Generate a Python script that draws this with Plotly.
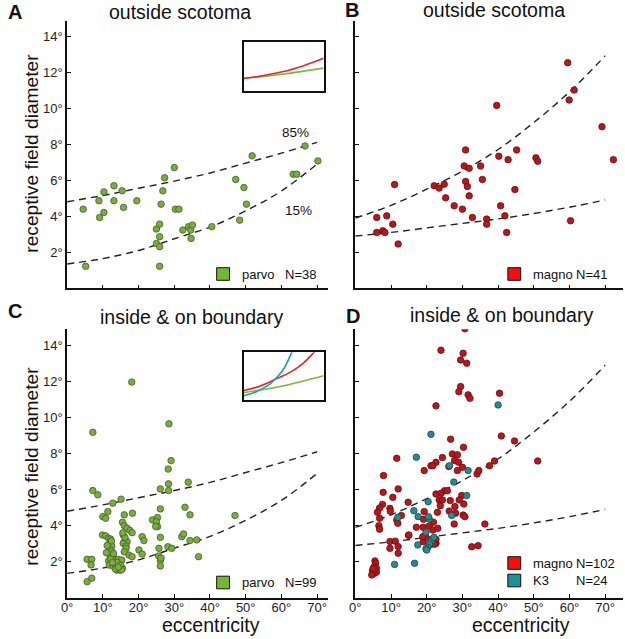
import plotly.graph_objects as go

W, H = 625, 639

# ---------------- data ----------------
# Panel A: parvo, outside scotoma
A_x = [4.5, 5.2, 8.9, 9.1, 10.3, 10.3, 13.1, 13.1, 15.4, 15.8, 19.5, 25.0, 25.0, 25.9, 25.9, 25.9, 25.9,
       26.3, 26.8, 27.3, 30.0, 30.3, 31.3, 32.4, 34.0, 34.6, 34.7, 35.1, 40.5, 47.2, 48.3, 49.5, 50.2,
       51.8, 63.3, 64.3, 66.6, 70.2]
A_y = [4.39, 1.22, 4.86, 3.93, 5.35, 4.21, 5.69, 4.86, 5.41, 4.49, 4.86, 3.29, 2.49, 3.56, 2.86, 2.31, 1.22,
       4.67, 5.41, 6.13, 6.70, 4.39, 4.39, 3.23, 3.42, 3.23, 2.77, 3.51, 3.42, 6.04, 3.78, 5.59, 4.67,
       7.35, 6.33, 6.33, 7.90, 7.07]

# Panel B: magno, outside scotoma
B_x = [6.0, 6.0, 7.7, 8.3, 8.8, 10.5, 11.0, 12.0, 22.1, 23.5, 24.9, 25.3, 27.7, 30.0, 30.5, 30.9, 30.9,
       31.4, 31.9, 31.9, 32.8, 35.1, 35.6, 36.8, 36.8, 39.6, 40.2, 40.7, 41.9, 42.4, 42.8, 44.7, 45.2,
       50.6, 51.1, 59.5, 59.9, 60.3, 61.3, 69.1, 72.3]
B_y = [3.93, 3.10, 3.19, 3.10, 4.02, 3.56, 5.76, 2.46, 5.69, 5.56, 5.78, 5.02, 4.58, 4.39, 6.79, 7.68, 5.93,
       5.65, 6.66, 5.13, 3.93, 6.79, 6.04, 3.84, 3.56, 10.15, 7.33, 4.58, 4.02, 3.10, 7.14, 5.48, 7.68,
       7.24, 7.05, 12.52, 10.45, 3.75, 11.0, 8.97, 7.14]

# Panel C: parvo, inside & on boundary
C_x = [7.2, 18.1, 28.5, 29.1, 28.3, 47.0, 36.3, 36.8,
       28.4, 28.4, 26.1, 33.9, 7.2, 8.6, 12.8, 15.1, 11.4, 10.0, 10.8, 16.0, 18.3, 26.1, 33.0, 34.4,
       15.5, 16.0, 16.8, 17.6, 23.9, 25.3, 25.0, 25.3, 24.8, 18.2,
       15.7, 16.2, 16.8, 15.7, 16.5, 21.0, 21.5, 26.1, 32.1, 32.6, 34.4,
       20.1, 21.0, 25.7, 28.2, 29.3, 17.3, 18.2, 25.6, 26.1, 26.1, 16.5,
       5.6, 6.9, 6.7, 5.6, 6.9,
       9.9, 10.8, 11.6, 12.2, 12.0, 12.5, 11.9, 12.5, 12.0, 12.9, 11.6, 12.5, 13.4, 14.3, 15.3, 11.8,
       12.9, 13.9, 14.8, 15.5, 13.9, 14.8, 13.4,
       12.4, 11.2, 13.0, 12.2, 14.0, 15.0, 13.5, 16.2, 15.6, 26.3, 16.0, 11.0, 12.7, 15.2, 14.3]
C_y = [9.18, 11.97, 9.65, 7.61, 7.14, 4.56, 3.21, 2.28,
       6.32, 5.95, 6.04, 6.41, 5.95, 5.71, 5.25, 5.47, 4.78, 4.50, 4.41, 4.60, 4.69, 4.93, 5.02, 4.60,
       4.19, 4.00, 3.86, 3.73, 4.32, 4.45, 4.22, 3.95, 3.95, 3.61,
       3.48, 3.21, 3.11, 3.02, 2.87, 3.39, 3.17, 3.35, 3.39, 3.54, 3.17,
       2.65, 2.42, 2.74, 2.83, 2.74, 2.37, 2.28, 2.32, 2.05, 1.76, 2.74,
       2.13, 2.13, 1.82, 0.89, 1.08,
       3.48, 3.43, 3.30, 3.25, 3.02, 2.87, 2.69, 2.56, 2.37, 2.28, 2.05, 2.00, 2.09, 2.12, 2.09, 1.81,
       1.76, 1.68, 1.63, 1.63, 1.53, 1.53, 1.86,
       3.15, 2.90, 2.45, 2.15, 1.95, 1.80, 1.60, 3.35, 3.60, 2.20, 2.55, 2.50, 1.95, 1.55, 1.70]

# Panel D: magno, inside & on boundary
D_mx = [30.7, 24.0, 30.2, 29.5, 31.2, 29.5, 29.0, 31.6, 32.1, 40.4, 22.6, 40.9, 44.6, 51.1, 26.7, 30.3,
        27.2, 28.6, 27.8, 28.9, 24.4, 22.6, 21.2, 21.7, 19.3, 26.2, 28.6, 30.0, 34.1, 34.6, 37.6, 39.0,
        11.6, 7.9, 7.8, 12.0, 10.5, 7.6, 6.8, 6.2, 9.7, 9.8, 6.8, 6.6, 6.8, 11.6, 12.9, 11.9, 14.8, 14.9,
        9.7, 11.2, 9.7, 12.0, 12.0,
        5.5, 5.7, 5.3, 5.9, 4.8, 5.3, 5.9, 4.6, 5.5, 5.0,
        25.0, 25.8, 22.6, 23.5, 24.4, 24.0, 23.8, 26.6, 27.9, 26.3, 23.0, 28.1, 30.2, 30.7, 27.7, 30.4,
        29.8, 17.1, 19.0, 21.9, 19.1, 20.7, 21.7, 19.0, 19.8, 21.2, 22.6, 22.6, 36.3, 32.6, 34.4, 19.3,
        23.1, 15.0, 22.2, 18.9, 29.1]
D_my = [14.93, 13.74, 13.57, 13.20, 13.02, 11.72, 11.44, 11.26, 11.07, 11.35, 10.65, 8.98, 8.70, 7.59, 8.80, 8.35,
        7.98, 7.93, 7.61, 7.52, 7.78, 7.52, 7.33, 7.33, 7.06, 7.28, 7.06, 7.24, 6.87, 7.06, 7.33, 7.59,
        7.74, 6.78, 5.85, 6.04, 5.57, 5.18, 4.98, 4.74, 4.96, 4.80, 4.41, 4.00, 3.80, 4.31, 4.56, 4.13, 5.30, 3.46,
        3.12, 3.14, 2.74, 2.84, 2.47,
        2.04, 1.91, 1.72, 1.63, 1.48, 1.35, 1.41, 1.26, 1.54, 1.63,
        5.94, 5.94, 5.76, 5.43, 5.43, 5.80, 5.11, 5.39, 5.06, 4.81, 4.74, 4.69, 4.59, 4.50, 4.09, 5.20,
        5.67, 3.91, 3.91, 4.19, 4.35, 3.98, 3.76, 3.11, 3.35, 2.96, 3.02, 3.24, 4.09, 2.83, 2.89, 4.78,
        3.85, 3.48, 2.97, 3.39, 5.43]
D_kx = [40.0, 21.2, 17.1, 26.4, 31.6, 27.6, 31.2, 20.4, 16.4, 17.6, 20.7, 27.0, 11.9, 19.8, 17.5, 21.2,
        20.8, 20.3, 19.8, 11.0, 16.6, 20.5, 22.0, 20.0]
D_ky = [10.70, 9.07, 7.80, 7.33, 7.06, 6.42, 5.67, 5.33, 4.83, 4.50, 4.37, 4.57, 4.46, 3.63, 2.93, 3.12,
        2.97, 2.80, 2.72, 1.85, 1.91, 4.50, 3.35, 2.65]

# percentile curves (85% upper, 15% lower), sampled at eccentricities
curve_ecc = [0, 10, 20, 30, 40, 50, 60, 70]
parvo_85 = [4.8, 5.15, 5.55, 5.95, 6.4, 6.95, 7.5, 8.1]
parvo_15 = [1.35, 1.65, 2.1, 2.75, 3.4, 4.3, 5.4, 6.9]
magno_85 = [3.9, 4.6, 5.5, 6.5, 7.7, 9.2, 10.9, 12.9]
magno_15 = [2.9, 3.1, 3.35, 3.6, 3.85, 4.15, 4.5, 4.9]

# inset curves (normalised)
insA_x = [0, 0.25, 0.5, 0.75, 1.0]
insA_green = [0.25, 0.29, 0.34, 0.40, 0.46]
insA_red = [0.25, 0.31, 0.39, 0.51, 0.66]
insC_red_x = [0, 0.2, 0.39, 0.6, 0.75, 0.88, 0.95]
insC_red_y = [0.20, 0.29, 0.43, 0.60, 0.78, 1.0, 1.12]
insC_cyan_x = [0, 0.15, 0.3, 0.39, 0.5, 0.6, 0.65]
insC_cyan_y = [0.09, 0.17, 0.30, 0.43, 0.65, 1.0, 1.2]
insC_green_x = [0, 0.25, 0.5, 0.75, 1.0]
insC_green_y = [0.155, 0.22, 0.30, 0.40, 0.51]

x_ticks = [0, 10, 20, 30, 40, 50, 60, 70]
x_ticktext = [f"{v}°" for v in x_ticks]
y_ticks = [2, 4, 6, 8, 10, 12, 14]
y_ticktext = [f"{v}°" for v in y_ticks]

# ---------------- styles ----------------
FONT = "Liberation Sans, Arial, Helvetica, sans-serif"
GREEN_DOT = "#7bab45"
GREEN_EDGE = "#41601f"
RED_DOT = "#b3191f"
RED_EDGE = "#6e0c0e"
TEAL_DOT = "#2a8a90"
TEAL_EDGE = "#15494c"
DASH = "7px,5px"


def px(x):
    return x / W


def py(y):
    return 1 - y / H


fig = go.Figure()


def dots(xs, ys, color, edge, xa, ya, size=6.5):
    fig.add_trace(go.Scatter(x=xs, y=ys, mode="markers", xaxis=xa, yaxis=ya,
                             marker=dict(size=size, color=color, line=dict(color=edge, width=0.8)),
                             showlegend=False, hoverinfo="skip"))


def curve(ys, xa, ya):
    fig.add_trace(go.Scatter(x=curve_ecc, y=ys, mode="lines", xaxis=xa, yaxis=ya,
                             line=dict(color="#222222", width=1.4, dash=DASH, shape="spline"),
                             showlegend=False, hoverinfo="skip"))


# Panel A
curve(parvo_85, "x", "y")
curve(parvo_15, "x", "y")
dots(A_x, A_y, GREEN_DOT, GREEN_EDGE, "x", "y")
# Panel B
curve(magno_85, "x2", "y2")
curve(magno_15, "x2", "y2")
dots(B_x, B_y, RED_DOT, RED_EDGE, "x2", "y2")
# Panel C
curve(parvo_85, "x3", "y3")
curve(parvo_15, "x3", "y3")
dots(C_x, C_y, GREEN_DOT, GREEN_EDGE, "x3", "y3")
# Panel D
curve(magno_85, "x4", "y4")
curve(magno_15, "x4", "y4")
dots(D_mx, D_my, RED_DOT, RED_EDGE, "x4", "y4")
dots(D_kx, D_ky, TEAL_DOT, TEAL_EDGE, "x4", "y4")


# Insets
def inset_line(xs, ys, color, xa, ya):
    fig.add_trace(go.Scatter(x=xs, y=ys, mode="lines", xaxis=xa, yaxis=ya,
                             line=dict(color=color, width=1.6, shape="spline"),
                             showlegend=False, hoverinfo="skip"))


inset_line(insA_x, insA_green, "#7cb83c", "x5", "y5")
inset_line(insA_x, insA_red, "#e3262e", "x5", "y5")
inset_line(insC_green_x, insC_green_y, "#7cb83c", "x6", "y6")
inset_line(insC_red_x, insC_red_y, "#e3262e", "x6", "y6")
inset_line(insC_cyan_x, insC_cyan_y, "#1ca0ad", "x6", "y6")

# ---------------- axes ----------------
colA = [61.7 / W, 325 / W]
colB = [352.7 / W, 623 / W]
rowTop = [py(288.3), py(20.7)]
rowBot = [py(597.7), py(329.3)]


def xaxis(domain, rng, anchor, labels):
    return dict(domain=domain, range=rng, anchor=anchor, showgrid=False, zeroline=False,
                showline=True, linecolor="#111111", linewidth=1.6,
                ticks="inside", ticklen=4, tickwidth=1, tickcolor="#111111",
                tickvals=x_ticks, ticktext=x_ticktext, showticklabels=labels,
                ticklabelstandoff=-3,
                tickfont=dict(family=FONT, size=13, color="#222222"), fixedrange=True)


def yaxis(domain, rng, anchor, labels):
    return dict(domain=domain, range=rng, anchor=anchor, showgrid=False, zeroline=False,
                showline=True, linecolor="#111111", linewidth=1.6,
                ticks="inside", ticklen=4, tickwidth=1, tickcolor="#111111",
                tickvals=y_ticks, ticktext=y_ticktext, showticklabels=labels,
                tickfont=dict(family=FONT, size=13, color="#222222"), fixedrange=True)


def inset_axis(domain, anchor):
    return dict(domain=domain, range=[0, 1], anchor=anchor, showgrid=False, zeroline=False,
                showline=True, mirror=True, linecolor="#111111", linewidth=1.5,
                ticks="", showticklabels=False, fixedrange=True)


fig.update_layout(
    width=W, height=H, margin=dict(l=0, r=0, t=0, b=0),
    paper_bgcolor="white", plot_bgcolor="white",
    font=dict(family=FONT, color="#111111"),
    xaxis=xaxis(colA, [0, 73], "y", False), yaxis=yaxis(rowTop, [0, 14.85], "x", True),
    xaxis2=xaxis(colB, [0, 75], "y2", False), yaxis2=yaxis(rowTop, [0, 14.85], "x2", False),
    xaxis3=xaxis(colA, [0, 73], "y3", True), yaxis3=yaxis(rowBot, [0, 14.9], "x3", True),
    xaxis4=xaxis(colB, [0, 75], "y4", True), yaxis4=yaxis(rowBot, [0, 14.9], "x4", False),
    xaxis5=inset_axis([240 / W, 320.7 / W], "y5"), yaxis5=inset_axis([py(90.7), py(41.7)], "x5"),
    xaxis6=inset_axis([240 / W, 320.7 / W], "y6"), yaxis6=inset_axis([py(400), py(352.3)], "x6"),
    showlegend=False,
)

# ---------------- text ----------------
ann = []


def text(s, x, y, size, xanchor="center", bold=False, angle=0):
    ann.append(dict(text=f"<b>{s}</b>" if bold else s, x=px(x), y=py(y), xref="paper", yref="paper",
                    xanchor=xanchor, yanchor="middle", showarrow=False, textangle=angle,
                    font=dict(family=FONT, size=size, color="#111111")))


text("A", 9, 12, 20, bold=True)
text("B", 349, 10, 20, bold=True)
text("C", 9, 311, 20, bold=True)
text("D", 350, 316, 20, bold=True)
text("outside scotoma", 176, 12, 19.5)
text("outside scotoma", 493, 10, 19.5)
text("inside &amp; on boundary", 187.5, 317, 19.5)
text("inside &amp; on boundary", 500.5, 315, 19.5)
text("receptive field diameter", 25, 153, 19.2, angle=-90)
text("receptive field diameter", 25, 466, 19.2, angle=-90)
text("eccentricity", 207, 625, 19.5)
text("eccentricity", 520, 625, 19.5)
text("85%", 292, 132, 13.5)
text("15%", 295, 210, 13.5)

# legends
shapes = []


def legend_item(x0, yc, color, label, count):
    shapes.append(dict(type="rect", xref="paper", yref="paper",
                       x0=px(x0), x1=px(x0 + 13), y0=py(yc + 6.3), y1=py(yc - 6.3),
                       fillcolor=color, line=dict(color="#111111", width=1)))
    text(label, x0 + 23.5, yc, 13, xanchor="left")
    text(count, x0 + 66.5, yc, 13, xanchor="left")


legend_item(212.7, 274, "#74b72f", "parvo", "N=38")
legend_item(506.7, 274, "#f01010", "magno", "N=41")
legend_item(212.7, 582.5, "#74b72f", "parvo", "N=99")
legend_item(506.7, 563, "#f01010", "magno", "N=102")
legend_item(506.7, 580.5, "#1f9097", "K3", "N=24")

fig.update_layout(annotations=ann, shapes=shapes)

fig.write_html("out.html", config={"displayModeBar": False},
               post_script="document.body.style.margin='0';")
